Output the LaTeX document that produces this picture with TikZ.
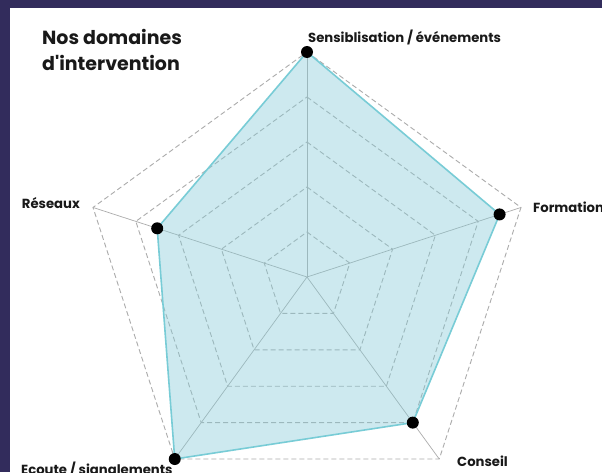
\documentclass[tikz,border=0pt]{standalone}
\usepackage{fontspec}
\setmainfont{Poppins}
\definecolor{navy}{RGB}{50,44,92}
\definecolor{tealbase}{RGB}{132,202,215}
\definecolor{tealline}{RGB}{120,204,214}
\definecolor{gridgray}{RGB}{172,172,172}
\definecolor{ink}{RGB}{25,25,25}
\tikzset{
  ring/.style={gridgray, dash pattern=on 5pt off 3pt, line width=0.9pt},
  spoke/.style={gridgray, line width=0.7pt},
  score/.style={circle, fill=black, inner sep=0pt, minimum size=12pt},
  axislabel/.style={ink, font=\bfseries\fontsize{13.2}{15}\selectfont, inner sep=0pt, anchor=base west},
}
\begin{document}
\begin{tikzpicture}[x=1pt,y=1pt]
\fill[navy] (-307,-195) rectangle (295,277);
\fill[white] (-297,-195) rectangle (295,269);
\useasboundingbox (-307,-195) rectangle (295,277);
% grid
\foreach \r in {45,90,...,225}
  \draw[ring] (90:\r) -- (18:\r) -- (-54:\r) -- (-126:\r) -- (162:\r) -- cycle;
\foreach \a in {90,18,-54,-126,162}
  \draw[spoke] (0,0) -- (\a:225);
% scores
\coordinate (psens) at (90:225);
\coordinate (pform) at (18:202.5);
\coordinate (pcons) at (-54:180);
\coordinate (pecou) at (-126:225);
\coordinate (presx) at (162:157.5);
\fill[tealbase, opacity=0.4] (psens) -- (pform) -- (pcons) -- (pecou) -- (presx) -- cycle;
\draw[tealline, line width=1.6pt, line join=round] (psens) -- (pform) -- (pcons) -- (pecou) -- (presx) -- cycle;
\node[score] (sens) at (psens) {};
\node[score] (form) at (pform) {};
\node[score] (cons) at (pcons) {};
\node[score] (ecou) at (pecou) {};
\node[score] (resx) at (presx) {};
% labels
\node[axislabel] (lsens) at (1,234) {Sensiblisation / événements};
\node[axislabel] (lform) at (226,65) {Formation};
\node[axislabel, anchor=base east] (lresx) at (-227,69) {Réseaux};
\node[axislabel] (lcons) at (150,-189) {Conseil};
\node[axislabel] (lecou) at (-286,-197) {Ecoute / signalements};
\node[ink, font=\bfseries\fontsize{19}{26}\selectfont, align=left, anchor=base west, inner sep=0pt] (title) at (-265,207) {Nos domaines\\d\textquotesingle intervention};
\end{tikzpicture}
\end{document}
